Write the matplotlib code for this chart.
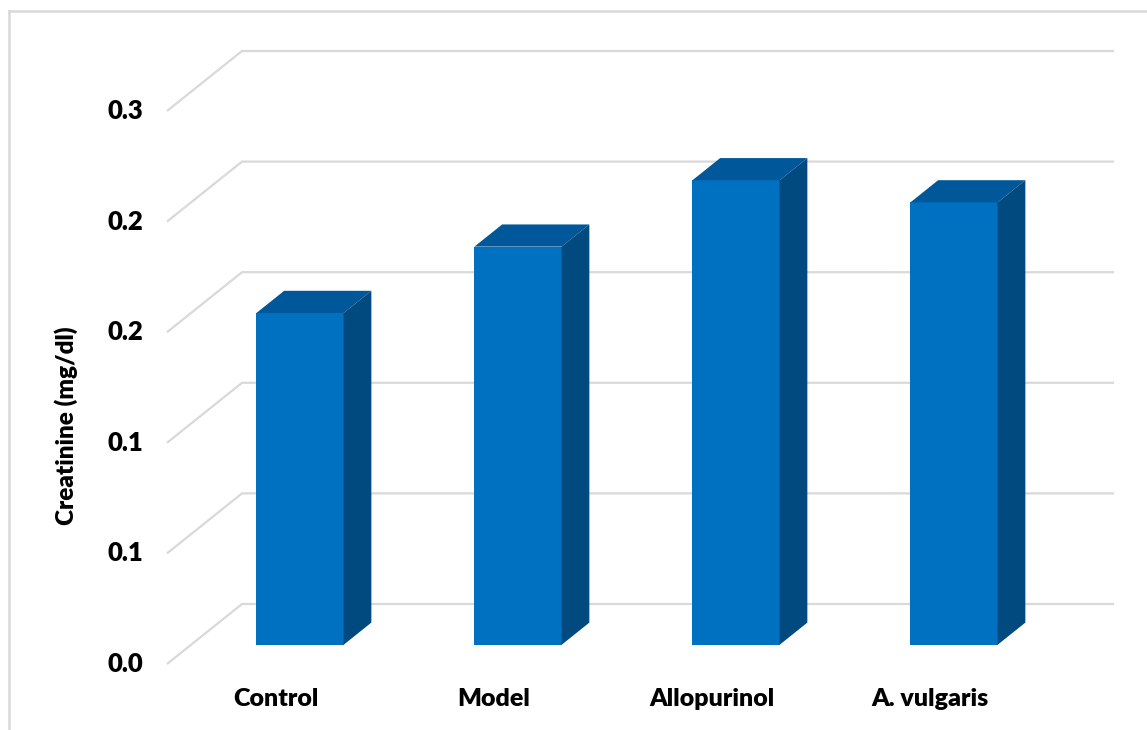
import matplotlib
matplotlib.use("Agg")
import matplotlib.pyplot as plt
from matplotlib.patches import Polygon
from matplotlib.lines import Line2D

# ---- data ----
categories = ["Control", "Model", "Allopurinol", "A. vulgaris"]
values = [0.150, 0.180, 0.210, 0.200]
tick_values = [0.0, 0.05, 0.10, 0.15, 0.20, 0.25]
tick_labels = ["0.0", "0.1", "0.1", "0.2", "0.2", "0.3"]
ylabel = "Creatinine (mg/dl)"

# ---- style / geometry (pixels) ----
W, H = 1147, 730
front_left_px = 167       # left edge of front plane
cat_px = 218              # px per category
zero_px_from_top = 664    # value 0 on front plane
px_per_unit = 2212        # px per value unit
depth_dx_px, depth_dy_px = 75, 60   # full depth offset
bar_d0, bar_d1 = 0.32, 0.69         # bar depth span (fraction)
bar_w = 0.40

front_col = "#0070C0"
top_col = "#00589B"
side_col = "#004A7F"
grid_col = "#D9D9D9"
font = ["Lato", "DejaVu Sans"]

fig = plt.figure(figsize=(W / 100, H / 100), dpi=100)
ax = fig.add_axes([0, 0, 1, 1])
ax.set_axis_off()
x0 = -0.5 - front_left_px / cat_px
x1 = -0.5 + (W - front_left_px) / cat_px
y0 = -(H - zero_px_from_top) / px_per_unit
y1 = zero_px_from_top / px_per_unit
ax.set_xlim(x0, x1)
ax.set_ylim(y0, y1)

ddx = depth_dx_px / cat_px
ddy = depth_dy_px / px_per_unit
n = len(categories)

# gridlines: left diagonal + back wall horizontal
for v in tick_values:
    ax.plot([-0.5, -0.5 + ddx, n - 0.5 + ddx], [v, v + ddy, v + ddy],
            color=grid_col, lw=1.6, solid_capstyle="butt", zorder=1)

# bars
sx0, sy0 = bar_d0 * ddx, bar_d0 * ddy
bdx, bdy = (bar_d1 - bar_d0) * ddx, (bar_d1 - bar_d0) * ddy
for i, v in enumerate(values):
    cx = i + sx0
    l, r = cx - bar_w / 2, cx + bar_w / 2
    b, t = sy0, sy0 + v
    ax.bar(cx, v, width=bar_w, bottom=b, color=front_col, zorder=3, linewidth=0)
    top = Polygon([(l, t), (r, t), (r + bdx, t + bdy), (l + bdx, t + bdy)],
                  closed=True, facecolor=top_col, edgecolor="none", zorder=3)
    side = Polygon([(r, b), (r, t), (r + bdx, t + bdy), (r + bdx, b + bdy)],
                   closed=True, facecolor=side_col, edgecolor="none", zorder=3)
    ax.add_patch(top)
    ax.add_patch(side)

# tick labels
lab_x = -0.5 - (front_left_px - 143) / cat_px
for v, s in zip(tick_values, tick_labels):
    ax.text(lab_x, v, s, ha="right", va="center", fontsize=18.5,
            fontweight="heavy", family=font, color="#000000")

# category labels
cat_y = -(699 - zero_px_from_top) / px_per_unit
for i, c in enumerate(categories):
    ax.text(i, cat_y, c, ha="center", va="center", fontsize=18,
            fontweight="heavy", family=font, color="#000000")

# y label
yl_x = -0.5 - (front_left_px - 66) / cat_px
yl_y = (zero_px_from_top - 426) / px_per_unit
ax.text(yl_x, yl_y, ylabel, rotation=90, ha="center", va="center",
        fontsize=17.5, fontweight="heavy", family=font, color="#000000")

# chart border (top and left)
fig.add_artist(Line2D([9 / W, 1], [1 - 11 / H, 1 - 11 / H], color=grid_col, lw=1.8,
                      transform=fig.transFigure))
fig.add_artist(Line2D([9 / W, 9 / W], [0, 1 - 11 / H], color=grid_col, lw=1.8,
                      transform=fig.transFigure))

fig.savefig("out.png", dpi=100)
